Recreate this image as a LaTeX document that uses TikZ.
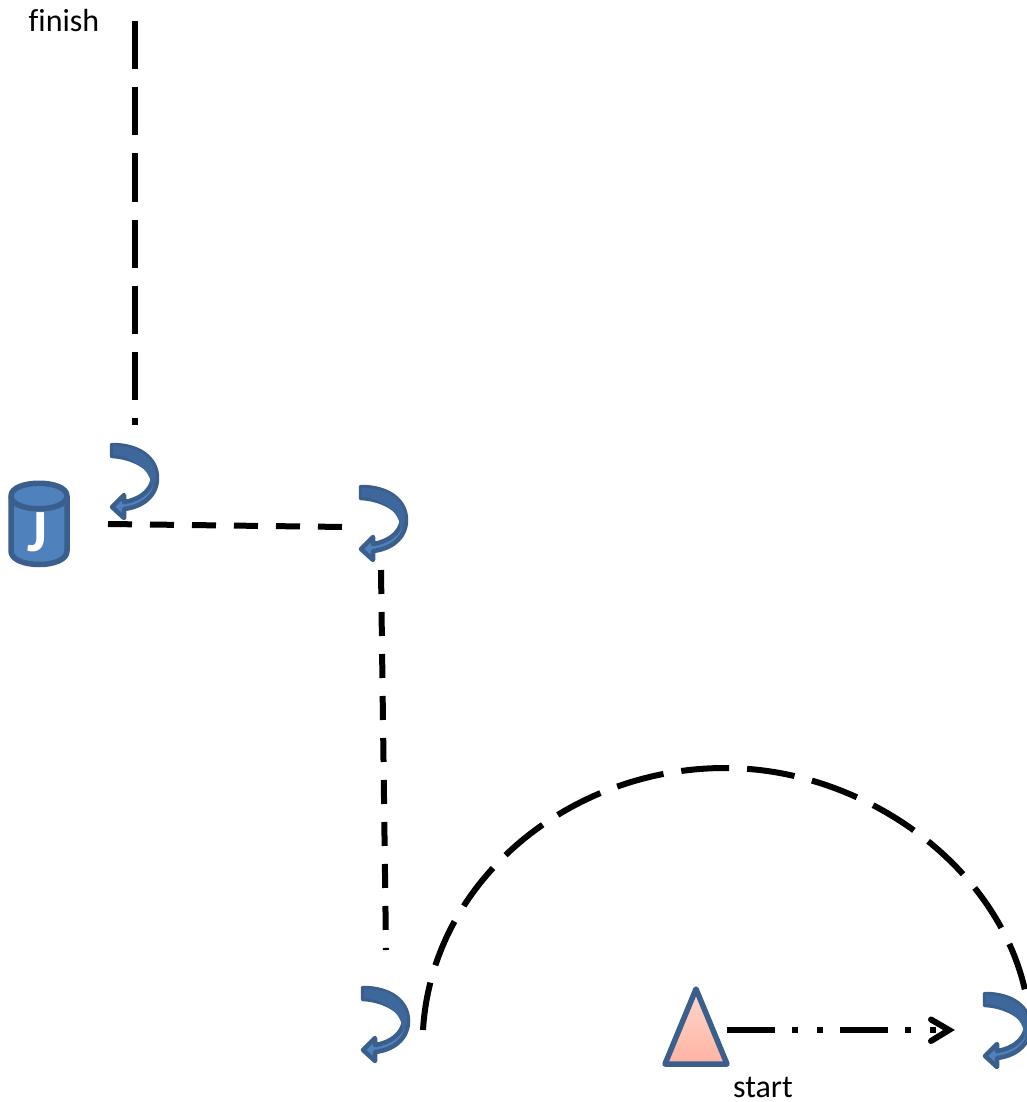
\documentclass[tikz,border=0pt]{standalone}
\usepackage{fontspec}
\setmainfont{Carlito}[Ligatures=NoCommon]
\definecolor{edgeblue}{HTML}{3A5F8C}
\definecolor{bandblue}{HTML}{3E689C}
\definecolor{fillblue}{HTML}{4F81BD}
\definecolor{pinktop}{HTML}{FFD6CC}
\definecolor{pinkbot}{HTML}{FFB3A3}
\tikzset{
  x=1pt,y=-1pt,
  flow/.style={line width=6pt,black},
  label/.style={inner sep=0pt,font=\fontsize{32}{36}\selectfont},
  turn/.pic={
    \fill[fillblue,draw=edgeblue,line width=4.5pt,line join=round]
      (2,3) .. controls (30,3) and (47,17) .. (47,36)
      .. controls (47,54) and (32,65) .. (14,67)
      -- (14,76) -- (2,65) -- (14,53) -- (14,60)
      .. controls (28,58) and (41,50) .. (43,36)
      .. controls (40,25) and (22,15) .. (2,14) -- cycle;
    \fill[bandblue] (3,4) .. controls (30,4) and (46,17) .. (46,36)
      .. controls (45,42) and (43,44) .. (41,46)
      .. controls (43,30) and (24,14) .. (3,13) -- cycle;
  }
}
\begin{document}
\begin{tikzpicture}
\useasboundingbox (0,0) rectangle (1027,1102);
\fill[white] (0,0) rectangle (1027,1102);
\node[label] (finish) at (64,21) {finish};
\node[label] (start) at (763,1087) {start};
\coordinate (f1) at (135,21.5);
\coordinate (f2) at (135,425);
\coordinate (g1) at (108,524);
\coordinate (g2) at (345,527);
\coordinate (h1) at (381,570);
\coordinate (h2) at (386,950);
\coordinate (a1) at (423,1030);
\coordinate (a2) at (1027,1000);
\coordinate (s1) at (727,1030);
\coordinate (s2) at (947,1030);
\draw[flow,dash pattern=on 48pt off 18pt] (f1) -- (f2);
\draw[flow,dash pattern=on 24pt off 18pt] (g1) -- (g2);
\draw[flow,dash pattern=on 24pt off 18pt] (h1) -- (h2);
\draw[flow,dash pattern=on 48pt off 18pt] (a1) .. controls (432,880) and (570,768) .. (725,768) .. controls (865,768) and (1003,868) .. (a2);
\draw[flow,dash pattern=on 48pt off 17pt on 6pt off 19pt on 6pt off 17pt] (s1) -- (s2);
\draw[line width=6pt,line cap=round,line join=miter] (931,1019.5) -- (949,1030) -- (931,1041);
\path (110,442) pic {turn};
\path (359,484) pic {turn};
\path (361,985) pic {turn};
\path (983,991) pic {turn};
\draw[bottom color=pinkbot,top color=pinktop,draw=edgeblue,line width=5.5pt,line join=round] (696,989) -- (727,1064) -- (665,1064) -- cycle;
\fill[fillblue,draw=edgeblue,line width=5.5pt,line join=round]
  (11,496) .. controls (11,479) and (67,479) .. (67,496) -- (67,551)
  .. controls (67,569) and (11,569) .. (11,551) -- cycle;
\draw[edgeblue,line width=5.5pt] (11,496) .. controls (11,513) and (67,513) .. (67,496);
\node[inner sep=0pt,text=white,font=\bfseries\fontsize{60}{62}\selectfont] (jay) at (37,532) {J};
\end{tikzpicture}
\end{document}
